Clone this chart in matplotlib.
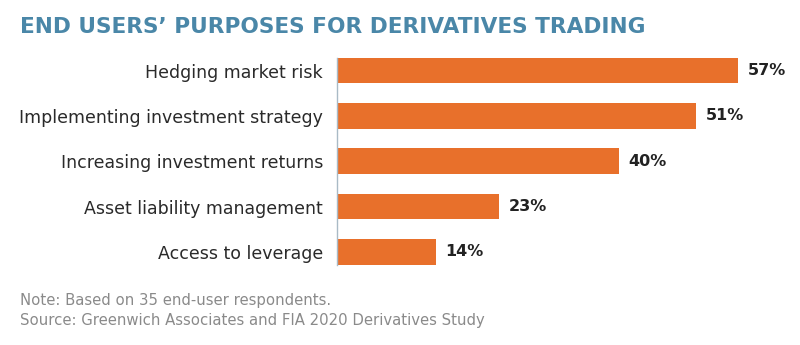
import matplotlib.pyplot as plt

# survey data
purposes = [
    "Hedging market risk",
    "Implementing investment strategy",
    "Increasing investment returns",
    "Asset liability management",
    "Access to leverage",
]
shares = [57, 51, 40, 23, 14]

title = "END USERS\u2019 PURPOSES FOR DERIVATIVES TRADING"
note = "Note: Based on 35 end-user respondents."
source = "Source: Greenwich Associates and FIA 2020 Derivatives Study"

plt.rcParams['font.family'] = ['DejaVu Sans']

fig = plt.figure(figsize=(8, 3.45), dpi=100)
ax = fig.add_axes([337 / 800, 0.2333, 1 - 337 / 800, 0.599])

ypos = list(range(len(purposes)))
ax.barh(ypos, shares, height=0.56, color='#e8702b')
ax.set_xlim(0, 463 / 7.04)
ax.set_ylim(4.28, -0.28)

# value labels
for y, v in zip(ypos, shares):
    ax.text(v + 1.4, y, f"{v}%", va='center', ha='left',
            fontsize=11.5, fontweight='bold', color='#222222')

# category labels on the left
ax.set_yticks(ypos)
ax.set_yticklabels(purposes, fontsize=12.5, color='#2a2a2a')
ax.tick_params(axis='y', length=0, pad=10)
ax.set_xticks([])

for s in ['top', 'right', 'bottom']:
    ax.spines[s].set_visible(False)
ax.spines['left'].set_color('#a9bac6')
ax.spines['left'].set_linewidth(1)

fig.text(20 / 800, 1 - 33 / 345, title, fontsize=15.6, fontweight='bold',
         color='#4a87a8', ha='left', va='baseline')
fig.text(20 / 800, 1 - 305 / 345, note, fontsize=10.75, color='#8a8a8a',
         ha='left', va='baseline')
fig.text(20 / 800, 1 - 325 / 345, source, fontsize=10.75, color='#8a8a8a',
         ha='left', va='baseline')

fig.savefig("out.png", dpi=100, facecolor='white')
